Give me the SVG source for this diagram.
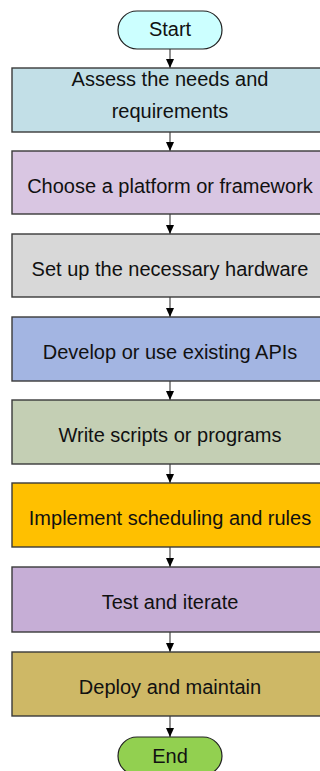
<svg xmlns="http://www.w3.org/2000/svg" width="320" height="771" viewBox="0 0 320 771">
<style>
  .box { stroke: #3a3a3a; stroke-width: 1.4; }
  .term { stroke: #222; stroke-width: 1.2; }
  text { font-family: "Liberation Sans", Arial, sans-serif; font-size: 20px; fill: #111; text-anchor: middle; }
  .conn { stroke: #555; stroke-width: 1.3; fill: none; marker-end: url(#arr); }
</style>
<defs>
  <marker id="arr" markerWidth="9" markerHeight="8" refX="9" refY="4" orient="auto" markerUnits="userSpaceOnUse">
    <path d="M0,0 L9,4 L0,8 Z" fill="#000"/>
  </marker>
</defs>
<rect width="320" height="771" fill="#fff"/>
<g id="connectors">
  <line class="conn" x1="170" y1="49" x2="170" y2="68"/>
  <line class="conn" x1="170" y1="132" x2="170" y2="151"/>
  <line class="conn" x1="170" y1="214" x2="170" y2="234"/>
  <line class="conn" x1="170" y1="297" x2="170" y2="317"/>
  <line class="conn" x1="170" y1="381" x2="170" y2="400"/>
  <line class="conn" x1="170" y1="464" x2="170" y2="483"/>
  <line class="conn" x1="170" y1="547" x2="170" y2="567"/>
  <line class="conn" x1="170" y1="632" x2="170" y2="652"/>
  <line class="conn" x1="170" y1="716" x2="170" y2="737"/>
</g>
<g id="start">
  <rect class="term" x="118" y="11" width="104" height="38" rx="19" fill="#ccffff"/>
  <text x="170" y="36">Start</text>
</g>
<g id="n1">
  <rect class="box" x="12" y="68" width="316" height="64" fill="#c2dfe7"/>
  <text x="170" y="86">Assess the needs and</text>
  <text x="170" y="118">requirements</text>
</g>
<g id="n2">
  <rect class="box" x="12" y="151" width="316" height="63" fill="#d9c6e2"/>
  <text x="170" y="193">Choose a platform or framework</text>
</g>
<g id="n3">
  <rect class="box" x="12" y="234" width="316" height="63" fill="#d8d8d8"/>
  <text x="170" y="276">Set up the necessary hardware</text>
</g>
<g id="n4">
  <rect class="box" x="12" y="317" width="316" height="64" fill="#a3b5e2"/>
  <text x="170" y="359">Develop or use existing APIs</text>
</g>
<g id="n5">
  <rect class="box" x="12" y="400" width="316" height="64" fill="#c4cfb4"/>
  <text x="170" y="442">Write scripts or programs</text>
</g>
<g id="n6">
  <rect class="box" x="12" y="483" width="316" height="64" fill="#ffc000"/>
  <text x="170" y="525">Implement scheduling and rules</text>
</g>
<g id="n7">
  <rect class="box" x="12" y="567" width="316" height="65" fill="#c6aed6"/>
  <text x="170" y="609">Test and iterate</text>
</g>
<g id="n8">
  <rect class="box" x="12" y="652" width="316" height="64" fill="#ceb866"/>
  <text x="170" y="694">Deploy and maintain</text>
</g>
<g id="end">
  <rect class="term" x="118" y="737" width="104" height="38" rx="19" fill="#92d050"/>
  <text x="170" y="763">End</text>
</g>
</svg>
